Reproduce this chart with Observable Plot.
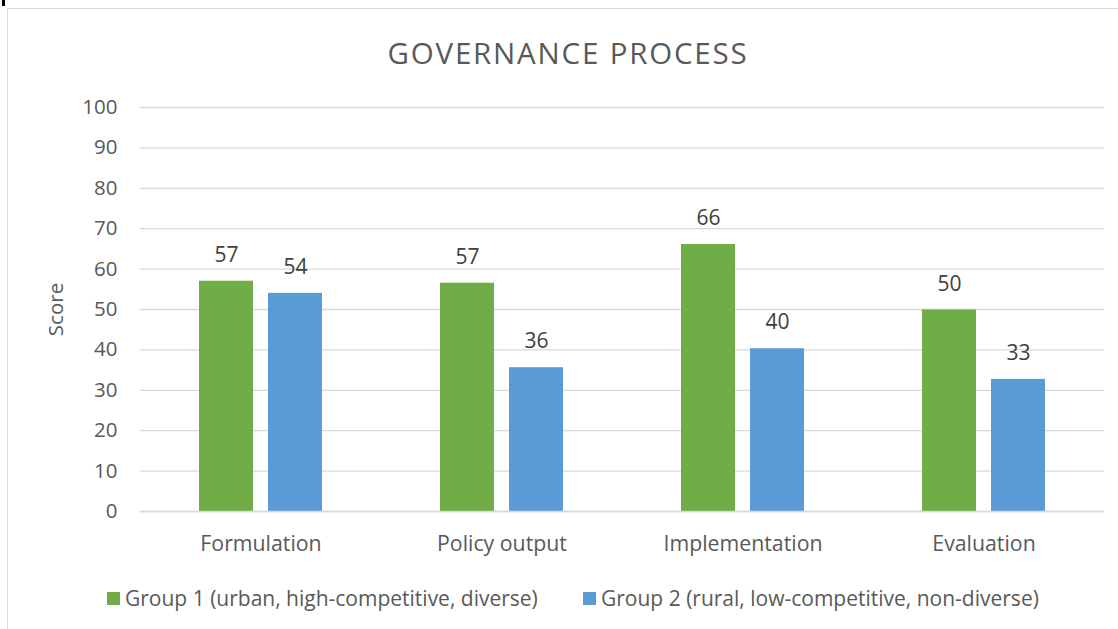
<!DOCTYPE html>
<html>
<head>
<meta charset="utf-8">
<script src="https://cdn.jsdelivr.net/npm/d3@7"></script>
<script src="https://cdn.jsdelivr.net/npm/@observablehq/plot@0.6"></script>
<style>
  html, body { margin: 0; padding: 0; background: #fff; overflow: hidden; }
  #wrap { position: relative; width: 1118px; height: 629px; font-family: "Open Sans", sans-serif; }
  #frame { position: absolute; left: 7px; top: 8px; width: 1120px; height: 630px; border-left: 1.5px solid #d9d9d9; border-top: 1.5px solid #d9d9d9; }
  #mark { position: absolute; left: 2px; top: 0; width: 3px; height: 6px; background: #000; }
  #title { position: absolute; left: 0; top: 38px; width: 1136px; text-align: center; font-size: 29.5px; line-height: 29.5px; color: #595959; letter-spacing: 1.8px; }
  #chart { position: absolute; left: 0; top: 0; }
  #legend { position: absolute; top: 585px; left: 0; width: 1118px; height: 26px; font-size: 21px; color: #595959; }
  .item { position: absolute; top: 0; display: flex; align-items: center; line-height: 26px; white-space: nowrap; }
  .sw { width: 13px; height: 13px; margin-right: 5px; }
</style>
</head>
<body>
<div id="wrap">
  <div id="frame"></div>
  <div id="mark"></div>
  <div id="title"></div>
  <div id="chart"></div>
  <div id="legend"></div>
</div>
<script>
const titleText = "GOVERNANCE PROCESS";
const yLabel = "Score";
const categories = ["Formulation", "Policy output", "Implementation", "Evaluation"];
const groups = ["Group 1 (urban, high-competitive, diverse)", "Group 2 (rural, low-competitive, non-diverse)"];
const group1Values = [57.0, 56.5, 66.1, 49.9];
const group2Values = [54.0, 35.6, 40.3, 32.7];
const group1Labels = ["57", "57", "66", "50"];
const group2Labels = ["54", "36", "40", "33"];
const yTicks = [0, 10, 20, 30, 40, 50, 60, 70, 80, 90, 100];
const colors = ["#70AD47", "#5B9BD5"];

const data = categories.flatMap((c, i) => [
  {category: c, group: groups[0], value: group1Values[i], label: group1Labels[i]},
  {category: c, group: groups[1], value: group2Values[i], label: group2Labels[i]}
]);

document.getElementById("title").textContent = titleText;

const chart = Plot.plot({
  width: 1118,
  height: 629,
  marginTop: 107,
  marginBottom: 118,
  marginLeft: 140,
  marginRight: 14,
  style: {fontFamily: "'Open Sans', sans-serif", fontSize: "21px", color: "#595959", background: "transparent", overflow: "visible"},
  fx: {domain: categories, padding: 0, label: null},
  x: {domain: groups, paddingInner: 0.2174, paddingOuter: 0.855, axis: null},
  y: {domain: [0, 100], label: null},
  color: {domain: groups, range: colors},
  marks: [
    Plot.gridY(yTicks, {stroke: "#d9d9d9", strokeOpacity: 1, strokeWidth: 1.3}),
    Plot.axisY(yTicks, {tickSize: 0, tickPadding: 23, fill: "#595959", fontSize: 20.5, label: yLabel, labelAnchor: "center", labelOffset: 92, labelArrow: "none"}),
    Plot.axisFx({anchor: "bottom", tickSize: 0, tickPadding: 24, fill: "#595959", fontSize: 21.3, label: null}),
    Plot.barY(data, {fx: "category", x: "group", y: "value", fill: "group"}),
    Plot.ruleY([0], {stroke: "#d9d9d9", strokeWidth: 1.3}),
    Plot.text(data, {fx: "category", x: "group", y: "value", text: "label", dy: -26, fill: "#404040", fontSize: 21})
  ]
});
document.getElementById("chart").appendChild(chart);

const legend = document.getElementById("legend");
const legendLefts = [107, 583];
groups.forEach((g, i) => {
  const item = document.createElement("div");
  item.className = "item";
  item.style.left = legendLefts[i] + "px";
  const sw = document.createElement("div");
  sw.className = "sw";
  sw.style.background = colors[i];
  const tx = document.createElement("span");
  tx.textContent = g;
  item.appendChild(sw);
  item.appendChild(tx);
  legend.appendChild(item);
});
</script>
</body>
</html>
